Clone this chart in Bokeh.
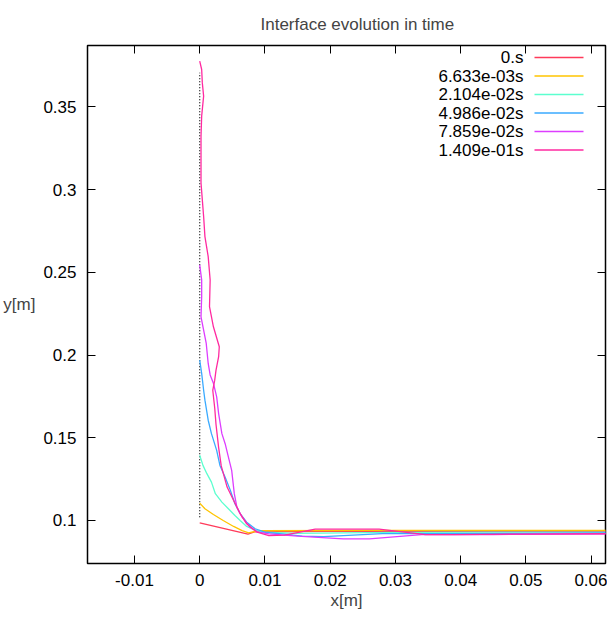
from bokeh.plotting import figure
from bokeh.models import Range1d, LinearAxis, Label, Arrow, FixedTicker
from bokeh.embed import file_html
from bokeh.resources import INLINE

names = ["0.s", "6.633e-03s", "2.104e-02s", "4.986e-02s", "7.859e-02s", "1.409e-01s"]
colors = ["#ff3a5a", "#ffc400", "#5cffcf", "#3aaaff", "#dd3dff", "#ff2aa0"]

x0 = [0.0, 0.0074, 0.0085, 0.02, 0.04, 0.0625]
y0 = [0.0985, 0.0918, 0.0932, 0.0935, 0.0934, 0.0934]

x1 = [0.0, 0.0008, 0.0021, 0.0036, 0.0052, 0.0065, 0.0075, 0.009, 0.03, 0.0625]
y1 = [0.1105, 0.1071, 0.1036, 0.1000, 0.0964, 0.0939, 0.0925, 0.0938, 0.0940, 0.0940]

x2 = [0.0, 0.0005, 0.0011, 0.0018, 0.0024, 0.0034, 0.0044, 0.0054, 0.0062, 0.0072, 0.0083, 0.0098, 0.015, 0.022, 0.03, 0.045, 0.0625]
y2 = [0.1394, 0.1333, 0.1283, 0.1232, 0.1162, 0.1111, 0.1071, 0.1030, 0.1000, 0.0964, 0.0944, 0.0929, 0.0922, 0.0925, 0.0928, 0.0930, 0.0930]

x3 = [0.0, 0.0003, 0.0006, 0.0008, 0.0013, 0.0018, 0.0026, 0.0031, 0.0039, 0.0047, 0.0054, 0.0062, 0.0072, 0.0085, 0.0100, 0.0126, 0.0157, 0.019, 0.028, 0.035, 0.05, 0.0625]
y3 = [0.1969, 0.1889, 0.1787, 0.1727, 0.1606, 0.1525, 0.1424, 0.1333, 0.1262, 0.1182, 0.1101, 0.1041, 0.0990, 0.0950, 0.0929, 0.0919, 0.0905, 0.0903, 0.0920, 0.0921, 0.0922, 0.0925]

x4 = [0.0, 0.0003, 0.0003, 0.0002, 0.0006, 0.0010, 0.0013, 0.0016, 0.0021, 0.0026, 0.0029, 0.0034, 0.0039, 0.0044, 0.0049, 0.0053, 0.0057, 0.0065, 0.0077, 0.0090, 0.0106, 0.015, 0.022, 0.026, 0.034, 0.045, 0.0625]
y4 = [0.2545, 0.2454, 0.2352, 0.2231, 0.2151, 0.2070, 0.1949, 0.1880, 0.1830, 0.1747, 0.1646, 0.1525, 0.1464, 0.1383, 0.1303, 0.1162, 0.1081, 0.1020, 0.0959, 0.0929, 0.0919, 0.0905, 0.0889, 0.0889, 0.0915, 0.0915, 0.0920]

x5 = [0.0, 0.0003, 0.0004, 0.0006, 0.0003, 0.0002, 0.0002, 0.0002, 0.0004, 0.0006, 0.0008, 0.0013, 0.0016, 0.0015, 0.0021, 0.0030, 0.0029, 0.0025, 0.0023, 0.0020, 0.0023, 0.0025, 0.0029, 0.0033, 0.0042, 0.0052, 0.0062, 0.0072, 0.0088, 0.0106, 0.013, 0.0177, 0.0275, 0.0346, 0.039, 0.05, 0.0625]
y5 = [0.3776, 0.3726, 0.3645, 0.3565, 0.3444, 0.3323, 0.3181, 0.3040, 0.2938, 0.2837, 0.2716, 0.2595, 0.2454, 0.2292, 0.2171, 0.2050, 0.1990, 0.1909, 0.1848, 0.1787, 0.1680, 0.1580, 0.1440, 0.1330, 0.1202, 0.1121, 0.1041, 0.0980, 0.0929, 0.0909, 0.0912, 0.0948, 0.0948, 0.0915, 0.0914, 0.0918, 0.0920]

xs = [x0, x1, x2, x3, x4, x5]
ys = [y0, y1, y2, y3, y4, y5]

wall_x = [0.0, 0.0]
wall_y = [0.102, 0.3706]

x_ticks = [-0.01, 0.0, 0.01, 0.02, 0.03, 0.04, 0.05, 0.06]
y_ticks = [0.1, 0.15, 0.2, 0.25, 0.3, 0.35]

FONT = "Liberation Sans"
FS = "17px"

p = figure(width=607, height=623, output_backend="svg", toolbar_location=None,
           title="Interface evolution in time",
           x_range=Range1d(-0.0172, 0.0622), y_range=Range1d(0.0740, 0.3871),
           min_border_left=86, min_border_right=2, min_border_top=11, min_border_bottom=60)
p.grid.visible = False
p.outline_line_color = "black"
p.outline_line_width = 1.5

p.title.text_font = FONT
p.title.text_font_size = FS
p.title.text_font_style = "normal"
p.title.align = "left"
p.title.offset = 173
p.title.standoff = 24

for ax in [p.xaxis[0], p.yaxis[0]]:
    ax.major_tick_in = 8
    ax.major_tick_out = 0
    ax.minor_tick_line_color = None
    ax.axis_line_color = None
    ax.major_label_text_font = FONT
    ax.major_label_text_font_size = FS
    ax.major_label_text_color = "black"
    ax.major_tick_line_color = "black"
    ax.axis_label_text_font = FONT
    ax.axis_label_text_font_size = FS
    ax.axis_label_text_font_style = "normal"
p.xaxis[0].ticker = FixedTicker(ticks=x_ticks)
p.yaxis[0].ticker = FixedTicker(ticks=y_ticks)
p.xaxis[0].major_label_overrides = {v: ("0" if v == 0 else f"{v:g}") for v in x_ticks}
p.yaxis[0].major_label_overrides = {v: f"{v:g}" for v in y_ticks}
p.xaxis[0].major_label_standoff = 10
p.yaxis[0].major_label_standoff = 11
p.xaxis[0].axis_label = "x[m]"
p.xaxis[0].axis_label_standoff = 2
p.yaxis[0].axis_label = "y[m]"
p.yaxis[0].axis_label_standoff = 5
try:
    p.yaxis[0].axis_label_orientation = "horizontal"
except Exception:
    pass

top = LinearAxis(ticker=FixedTicker(ticks=x_ticks), major_tick_in=8, major_tick_out=0,
                 minor_tick_line_color=None, axis_line_color=None,
                 major_label_overrides={v: "" for v in x_ticks}, major_label_standoff=0)
right = LinearAxis(ticker=FixedTicker(ticks=y_ticks), major_tick_in=8, major_tick_out=0,
                   minor_tick_line_color=None, axis_line_color=None,
                   major_label_overrides={v: "" for v in y_ticks}, major_label_standoff=0)
p.add_layout(top, "above")
p.add_layout(right, "right")

p.line(wall_x, wall_y, line_color="black", line_dash="1 2", line_width=1.2)

for x, y, c in zip(xs, ys, colors):
    p.line(x, y, line_color=c, line_width=1.3)

# screen units are relative to the frame's bottom-left corner (86, 563)
def sx(px):
    return px - 86

def sy(py):
    return 563 - py

for i, (n, c) in enumerate(zip(names, colors)):
    yy = sy(57 + i * 18.5)
    p.add_layout(Label(x=sx(522), y=yy, x_units="screen", y_units="screen", text=n,
                       text_align="right", text_baseline="middle",
                       text_font=FONT, text_font_size=FS, text_color="black"))
    p.add_layout(Arrow(end=None, x_start=sx(533), y_start=yy, x_end=sx(582), y_end=yy,
                       start_units="screen", end_units="screen", line_color=c, line_width=1.3))

open("out.html", "w").write(file_html(p, INLINE))
